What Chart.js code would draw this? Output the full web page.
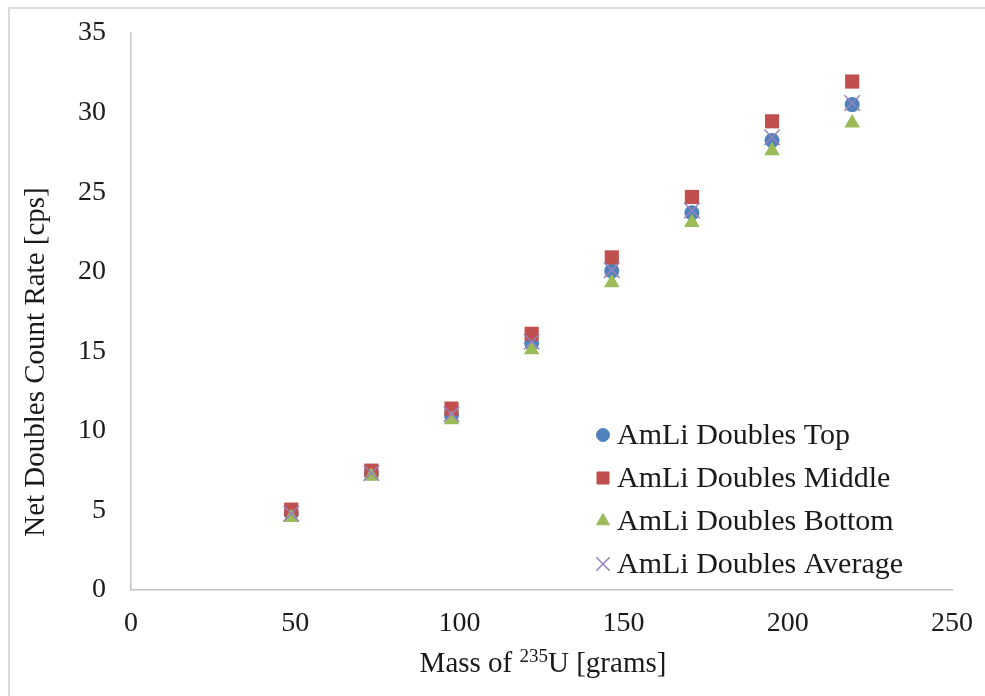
<!DOCTYPE html>
<html>
<head>
<meta charset="utf-8">
<script src="https://cdn.jsdelivr.net/npm/chart.js@4.4.1/dist/chart.umd.min.js"></script>
<style>
  html, body { margin: 0; padding: 0; background: #fff; }
  #wrap { width: 985px; height: 696px; position: relative; }
</style>
</head>
<body>
<div id="wrap"><canvas id="chart" width="985" height="696"></canvas></div>
<script>
// AmLi doubles count rate vs 235U mass

const massGrams = [48.8, 73.2, 97.6, 122.0, 146.4, 170.8, 195.2, 219.6];
const doublesTop = [4.8, 7.35, 11.0, 15.5, 20.05, 23.7, 28.25, 30.5];
const doublesMiddle = [5.05, 7.5, 11.4, 16.1, 20.9, 24.7, 29.45, 31.95];
const doublesBottom = [4.55, 7.15, 10.7, 15.1, 19.3, 23.1, 27.6, 29.35];
const doublesAverage = [4.8, 7.35, 11.05, 15.6, 20.1, 23.85, 28.45, 30.6];

const xTicks = [0, 50, 100, 150, 200, 250];
const yTicks = [0, 5, 10, 15, 20, 25, 30, 35];

const SERIF = "'Liberation Serif', 'Times New Roman', serif";
const TEXT = "#1a1a1a";
const AXIS = "#c6c6c6";

function pts(ys) {
  return massGrams.map((x, i) => ({ x, y: ys[i] }));
}

const seriesDefs = [
  { label: "AmLi Doubles Top", data: doublesTop, color: "#4f81bd", style: "circle", r: 7.5, lr: 6.5, order: 4 },
  { label: "AmLi Doubles Middle", data: doublesMiddle, color: "#c0504d", style: "rect", r: 10, lr: 8.5, order: 3 },
  { label: "AmLi Doubles Bottom", data: doublesBottom, color: "#9bbb59", style: "triangle", r: 9, lr: 7.5, order: 2 },
  { label: "AmLi Doubles Average", data: doublesAverage, color: "#9583bb", style: "crossRot", r: 11, lr: 9.5, order: 1 },
];

// legend + axis titles + outer frame, drawn by hand
const decorPlugin = {
  id: "decor",
  beforeDraw(chart) {
    const ctx = chart.ctx;
    ctx.save();
    ctx.strokeStyle = "#d9d9d9";
    ctx.lineWidth = 2;
    ctx.beginPath();
    ctx.moveTo(9, 696);
    ctx.lineTo(9, 8);
    ctx.lineTo(985, 8);
    ctx.stroke();
    ctx.restore();
  },
  afterDraw(chart) {
    const ctx = chart.ctx;
    const area = chart.chartArea;
    ctx.save();
    ctx.fillStyle = TEXT;

    // y title
    ctx.save();
    ctx.translate(36, 362);
    ctx.rotate(-Math.PI / 2);
    ctx.font = "29px " + SERIF;
    ctx.textAlign = "center";
    ctx.textBaseline = "middle";
    ctx.fillText("Net Doubles Count Rate [cps]", 0, 0);
    ctx.restore();

    // x title with superscript 235
    const big = "29px " + SERIF;
    const small = "19px " + SERIF;
    const p1 = "Mass of ", sup = "235", p2 = "U [grams]";
    ctx.font = big;
    const w1 = ctx.measureText(p1).width;
    const w3 = ctx.measureText(p2).width;
    ctx.font = small;
    const w2 = ctx.measureText(sup).width;
    const total = w1 + w2 + w3;
    let x = 543 - total / 2;
    const base = 672;
    ctx.textAlign = "left";
    ctx.textBaseline = "alphabetic";
    ctx.font = big;
    ctx.fillText(p1, x, base);
    x += w1;
    ctx.font = small;
    ctx.fillText(sup, x, base - 10);
    x += w2;
    ctx.font = big;
    ctx.fillText(p2, x, base);

    // legend inside plot area, bottom right
    const lx = area.left + 472;
    const ly0 = area.top + 402;
    const step = 43;
    ctx.font = "30px " + SERIF;
    ctx.textBaseline = "middle";
    seriesDefs.forEach((s, i) => {
      const y = ly0 + i * step;
      ctx.fillStyle = s.color;
      ctx.strokeStyle = s.color;
      ctx.lineWidth = s.style === "crossRot" ? 1.5 : 1;
      Chart.helpers.drawPoint(ctx, { pointStyle: s.style, radius: s.lr, rotation: 0, borderWidth: ctx.lineWidth }, lx, y);
      ctx.fillStyle = TEXT;
      ctx.fillText(s.label, lx + 14, y + 1);
    });
    ctx.restore();
  },
};

const ctx = document.getElementById("chart").getContext("2d");
new Chart(ctx, {
  type: "scatter",
  data: {
    datasets: seriesDefs.map((s) => ({
      label: s.label,
      data: pts(s.data),
      pointStyle: s.style,
      pointRadius: s.r,
      backgroundColor: s.color,
      borderColor: s.color,
      borderWidth: s.style === "crossRot" ? 1.5 : 0,
      order: s.order,
    })),
  },
  options: {
    responsive: false,
    animation: false,
    layout: { padding: { left: 0, top: 33, right: 33, bottom: 0 } },
    plugins: {
      legend: { display: false },
      tooltip: { enabled: false },
    },
    scales: {
      x: {
        type: "linear",
        min: 0,
        max: 250,
        afterBuildTicks(scale) {
          scale.ticks = xTicks.map((v) => ({ value: v }));
        },
        afterFit(scale) {
          scale.height = 106;
          scale.paddingLeft = 0;
          scale.paddingRight = 0;
        },
        grid: { display: false, drawTicks: false },
        border: { display: true, color: AXIS, width: 1.5 },
        ticks: {
          color: TEXT,
          padding: 17,
          font: { family: SERIF, size: 28 },
        },
      },
      y: {
        type: "linear",
        min: 0,
        max: 35,
        afterBuildTicks(scale) {
          scale.ticks = yTicks.map((v) => ({ value: v }));
        },
        afterFit(scale) {
          scale.width = 131;
          scale.paddingTop = 0;
          scale.paddingBottom = 0;
        },
        grid: { display: false, drawTicks: false },
        border: { display: true, color: AXIS, width: 1.5 },
        ticks: {
          color: TEXT,
          padding: 25,
          font: { family: SERIF, size: 28 },
        },
      },
    },
  },
  plugins: [decorPlugin],
});
</script>
</body>
</html>
